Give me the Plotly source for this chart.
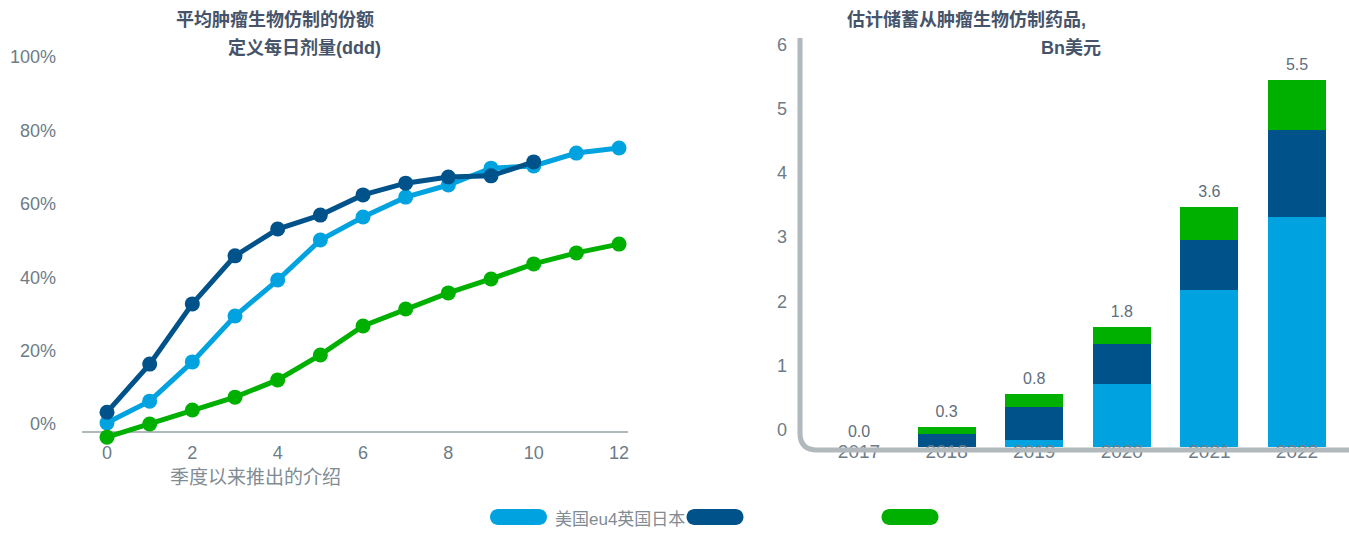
import plotly.graph_objects as go

W, H = 1349, 533

# --- left panel: share of biosimilar DDD by quarter since launch (%) ---
quarters = list(range(13))
share_us = [2.5, 8.4, 19.1, 31.6, 41.4, 52.3, 58.6, 64.0, 67.3, 71.9, 72.5, 76.0, 77.4]
share_eu = [5.4, 18.5, 34.9, 48.0, 55.3, 59.1, 64.6, 67.8, 69.5, 69.8, 73.6]
share_jp = [-1.4, 2.2, 6.0, 9.5, 14.2, 21.0, 28.9, 33.5, 37.9, 41.7, 45.8, 48.8, 51.2]
share_ticks = [0, 20, 40, 60, 80, 100]
quarter_ticks = [0, 2, 4, 6, 8, 10, 12]

# --- right panel: estimated savings, Bn USD ---
years = ["2017", "2018", "2019", "2020", "2021", "2022"]
savings_us = [0.0, 0.0, 0.1, 0.95, 2.35, 3.45]
savings_eu = [0.0, 0.2, 0.5, 0.6, 0.75, 1.3]
savings_jp = [0.0, 0.1, 0.2, 0.25, 0.5, 0.75]
savings_ticks = [0, 1, 2, 3, 4, 5, 6]

legend_text = "美国eu4英国日本"

LIGHT = "#00a3e0"
DARK = "#00538a"
GREEN = "#00b000"
TITLE = "#46546a"
TICK = "#6d7c87"
AXIS = "#b2b9bd"
FONT = "Liberation Sans, Noto Sans CJK SC, sans-serif"


def px(x):
    return x / W


def py(y):
    return 1 - y / H


# pixel geometry of the two panels
L_LEFT, L_RIGHT, L_TOP, L_BOTTOM, L_ZERO = 82, 628, 40, 440, 432
L_PER_PCT = 3.67
L_X0, L_PER_Q = 107, 42.67

R_LEFT, R_TOP, R_BASE = 800, 38, 447
R_PER_BN = 66.7
R_LABEL_ZERO, R_LABEL_PER = 430, 64.3
R_X0, R_PER_CAT = 859, 87.6

fig = go.Figure()

line_series = [(share_us, LIGHT, "美国"), (share_eu, DARK, "eu4+英国"), (share_jp, GREEN, "日本")]
for vals, col, name in line_series:
    fig.add_trace(go.Scatter(
        x=quarters[:len(vals)], y=vals, mode="lines+markers", name=name,
        line=dict(color=col, width=5), marker=dict(color=col, size=15),
        cliponaxis=False, showlegend=False, xaxis="x", yaxis="y",
    ))

bar_series = [(savings_us, LIGHT, "美国"), (savings_eu, DARK, "eu4+英国"), (savings_jp, GREEN, "日本")]
for vals, col, name in bar_series:
    fig.add_trace(go.Bar(
        x=years, y=vals, name=name, marker=dict(color=col, line=dict(width=0)),
        width=0.66, showlegend=False, xaxis="x2", yaxis="y2",
    ))

totals = [round(a + b + c, 1) for a, b, c in zip(savings_us, savings_eu, savings_jp)]
fig.add_trace(go.Scatter(
    x=years, y=totals, mode="markers+text", text=[f"{t:.1f}" for t in totals],
    textposition="top center", textfont=dict(size=16, color="#5d6e7e", family=FONT),
    marker=dict(size=8, opacity=0), hoverinfo="skip", showlegend=False,
    cliponaxis=False, xaxis="x2", yaxis="y2",
))
# carrier for the savings tick scale
fig.add_trace(go.Scatter(x=[None], y=[None], mode="markers", showlegend=False,
                         hoverinfo="skip", xaxis="x2", yaxis="y3"))

fig.update_layout(
    width=W, height=H, margin=dict(l=0, r=0, t=0, b=0, autoexpand=False),
    paper_bgcolor="white", plot_bgcolor="white",
    font=dict(family=FONT, color=TICK, size=18),
    barmode="stack", bargap=0,
    xaxis=dict(
        domain=[px(L_LEFT), px(L_RIGHT)],
        range=[(L_LEFT - L_X0) / L_PER_Q, (L_RIGHT - L_X0) / L_PER_Q],
        tickvals=quarter_ticks, showgrid=False, zeroline=False, showline=False,
        ticks="", tickfont=dict(size=18, color=TICK), anchor="y", automargin=False,
    ),
    yaxis=dict(
        domain=[py(L_BOTTOM), py(L_TOP)],
        range=[-(L_BOTTOM - L_ZERO) / L_PER_PCT, (L_ZERO - L_TOP) / L_PER_PCT],
        tickvals=share_ticks, ticktext=[f"{v}%" for v in share_ticks],
        showgrid=False, showline=False, ticks="",
        zeroline=True, zerolinecolor=AXIS, zerolinewidth=2,
        ticklabelshift=-8, ticklabelstandoff=25,
        tickfont=dict(size=18, color=TICK), anchor="x", automargin=False,
    ),
    xaxis2=dict(
        domain=[px(R_LEFT), 1.0], type="category",
        categoryorder="array", categoryarray=years,
        range=[(R_LEFT - R_X0) / R_PER_CAT, (W - R_X0) / R_PER_CAT],
        showgrid=False, zeroline=False, showline=False, ticks="",
        ticklabelstandoff=-9, tickfont=dict(size=19, color=TICK), anchor="y2",
        automargin=False,
    ),
    yaxis2=dict(
        domain=[py(R_BASE), py(R_TOP)],
        range=[0, (R_BASE - R_TOP) / R_PER_BN],
        visible=False, anchor="x2", automargin=False,
    ),
    yaxis3=dict(
        domain=[py(R_BASE), py(R_TOP)], overlaying="y2", anchor="x2", side="left",
        range=[-(R_BASE - R_LABEL_ZERO) / R_LABEL_PER, (R_LABEL_ZERO - R_TOP) / R_LABEL_PER],
        tickvals=savings_ticks, showgrid=False, zeroline=False, showline=False,
        ticks="", ticklabelstandoff=12, tickfont=dict(size=18, color=TICK),
        automargin=False,
    ),
)

# rounded axis frame of the savings panel
corner = 17
ax_y = 450
fig.add_shape(
    type="path", xref="paper", yref="paper", layer="above",
    path=(f"M {px(R_LEFT)},{py(R_TOP)} L {px(R_LEFT)},{py(ax_y - corner)} "
          f"Q {px(R_LEFT)},{py(ax_y)} {px(R_LEFT + corner)},{py(ax_y)} L 1.0,{py(ax_y)}"),
    line=dict(color=AXIS, width=5),
)

# legend pills
pill = ("M -20.5,-8 L 20.5,-8 C 24.9,-8 28.5,-4.4 28.5,0 C 28.5,4.4 24.9,8 20.5,8 "
        "L -20.5,8 C -24.9,8 -28.5,4.4 -28.5,0 C -28.5,-4.4 -24.9,-8 -20.5,-8 Z")
for cx, col in [(518.5, LIGHT), (715, DARK), (910, GREEN)]:
    fig.add_shape(
        type="path", xref="paper", yref="paper", xsizemode="pixel", ysizemode="pixel",
        xanchor=px(cx), yanchor=py(517), path=pill,
        fillcolor=col, line=dict(width=0), layer="above",
    )

annotations = [
    dict(text="<b>平均肿瘤生物仿制的份额</b>", x=px(275), y=py(20), size=18, color=TITLE),
    dict(text="<b>定义每日剂量(ddd)</b>", x=px(304), y=py(48), size=18, color=TITLE),
    dict(text="<b>估计储蓄从肿瘤生物仿制药品,</b>", x=px(966), y=py(20), size=18, color=TITLE),
    dict(text="<b>Bn美元</b>", x=px(1071), y=py(48), size=18, color=TITLE),
    dict(text="季度以来推出的介绍", x=px(255), y=py(477), size=19, color="#7f8c94"),
]
for a in annotations:
    fig.add_annotation(
        text=a["text"], x=a["x"], y=a["y"], xref="paper", yref="paper",
        xanchor="center", yanchor="middle", showarrow=False,
        font=dict(size=a["size"], color=a["color"], family=FONT),
    )
fig.add_annotation(
    text=legend_text, x=px(553), y=py(519), xref="paper", yref="paper",
    xanchor="left", yanchor="middle", showarrow=False,
    font=dict(size=17, color="#7f8c94", family=FONT),
)

fig.write_html("out.html")
